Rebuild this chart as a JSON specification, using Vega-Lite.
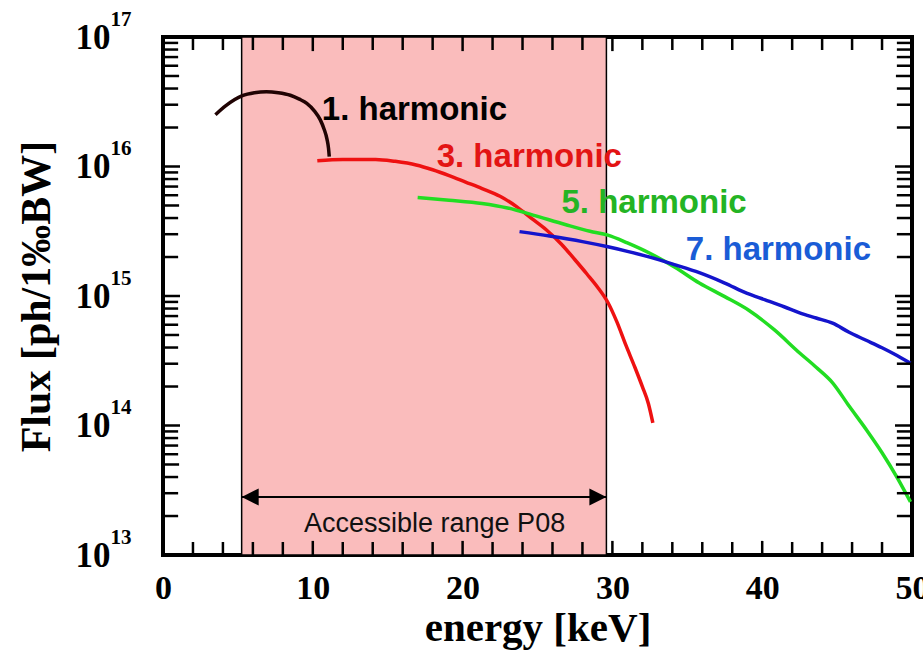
{
  "$schema": "https://vega.github.io/schema/vega-lite/v6.json",
  "width": 749,
  "height": 518,
  "autosize": {"type": "none"},
  "padding": {"left": 163, "top": 37, "right": 11, "bottom": 97},
  "background": "white",
  "config": {"view": {"stroke": "#000000", "strokeWidth": 4}, "axis": {"grid": false}},
  "datasets": {
    "curves": [
      {"harmonic": "1. harmonic", "E": 3.5, "F": 2.512e16},
      {"harmonic": "1. harmonic", "E": 4.2, "F": 2.951e16},
      {"harmonic": "1. harmonic", "E": 5.3, "F": 3.524e16},
      {"harmonic": "1. harmonic", "E": 6.1, "F": 3.715e16},
      {"harmonic": "1. harmonic", "E": 6.9, "F": 3.784e16},
      {"harmonic": "1. harmonic", "E": 7.7, "F": 3.715e16},
      {"harmonic": "1. harmonic", "E": 8.5, "F": 3.548e16},
      {"harmonic": "1. harmonic", "E": 9.1, "F": 3.311e16},
      {"harmonic": "1. harmonic", "E": 9.6, "F": 3.076e16},
      {"harmonic": "1. harmonic", "E": 10.1, "F": 2.692e16},
      {"harmonic": "1. harmonic", "E": 10.5, "F": 2.291e16},
      {"harmonic": "1. harmonic", "E": 10.75, "F": 1.95e16},
      {"harmonic": "1. harmonic", "E": 10.95, "F": 1.622e16},
      {"harmonic": "1. harmonic", "E": 11.05, "F": 1.38e16},
      {"harmonic": "1. harmonic", "E": 11.1, "F": 1.191e16},
      {"harmonic": "3. harmonic", "E": 10.3, "F": 1.109e16},
      {"harmonic": "3. harmonic", "E": 12.0, "F": 1.135e16},
      {"harmonic": "3. harmonic", "E": 14.2, "F": 1.135e16},
      {"harmonic": "3. harmonic", "E": 15.5, "F": 1.096e16},
      {"harmonic": "3. harmonic", "E": 16.9, "F": 1.028e16},
      {"harmonic": "3. harmonic", "E": 18.0, "F": 9.441e15},
      {"harmonic": "3. harmonic", "E": 19.1, "F": 8.511e15},
      {"harmonic": "3. harmonic", "E": 20.2, "F": 7.586e15},
      {"harmonic": "3. harmonic", "E": 21.3, "F": 6.761e15},
      {"harmonic": "3. harmonic", "E": 22.5, "F": 5.888e15},
      {"harmonic": "3. harmonic", "E": 23.6, "F": 4.898e15},
      {"harmonic": "3. harmonic", "E": 24.6, "F": 3.981e15},
      {"harmonic": "3. harmonic", "E": 25.6, "F": 3.236e15},
      {"harmonic": "3. harmonic", "E": 26.6, "F": 2.512e15},
      {"harmonic": "3. harmonic", "E": 27.5, "F": 1.905e15},
      {"harmonic": "3. harmonic", "E": 28.3, "F": 1.479e15},
      {"harmonic": "3. harmonic", "E": 29.0, "F": 1.175e15},
      {"harmonic": "3. harmonic", "E": 29.7, "F": 8.913e14},
      {"harmonic": "3. harmonic", "E": 30.3, "F": 6.31e14},
      {"harmonic": "3. harmonic", "E": 30.9, "F": 4.169e14},
      {"harmonic": "3. harmonic", "E": 31.5, "F": 2.818e14},
      {"harmonic": "3. harmonic", "E": 32.0, "F": 1.995e14},
      {"harmonic": "3. harmonic", "E": 32.4, "F": 1.479e14},
      {"harmonic": "3. harmonic", "E": 32.7, "F": 1.047e14},
      {"harmonic": "5. harmonic", "E": 17.0, "F": 5.754e15},
      {"harmonic": "5. harmonic", "E": 19.1, "F": 5.495e15},
      {"harmonic": "5. harmonic", "E": 21.3, "F": 5.188e15},
      {"harmonic": "5. harmonic", "E": 23.0, "F": 4.786e15},
      {"harmonic": "5. harmonic", "E": 24.7, "F": 4.217e15},
      {"harmonic": "5. harmonic", "E": 26.9, "F": 3.548e15},
      {"harmonic": "5. harmonic", "E": 28.5, "F": 3.162e15},
      {"harmonic": "5. harmonic", "E": 29.7, "F": 2.951e15},
      {"harmonic": "5. harmonic", "E": 31.0, "F": 2.57e15},
      {"harmonic": "5. harmonic", "E": 32.5, "F": 2.138e15},
      {"harmonic": "5. harmonic", "E": 34.2, "F": 1.66e15},
      {"harmonic": "5. harmonic", "E": 35.8, "F": 1.259e15},
      {"harmonic": "5. harmonic", "E": 37.5, "F": 9.886e14},
      {"harmonic": "5. harmonic", "E": 39.1, "F": 7.762e14},
      {"harmonic": "5. harmonic", "E": 40.8, "F": 5.495e14},
      {"harmonic": "5. harmonic", "E": 42.5, "F": 3.631e14},
      {"harmonic": "5. harmonic", "E": 43.6, "F": 2.818e14},
      {"harmonic": "5. harmonic", "E": 44.7, "F": 2.138e14},
      {"harmonic": "5. harmonic", "E": 45.8, "F": 1.413e14},
      {"harmonic": "5. harmonic", "E": 47.0, "F": 9.12e13},
      {"harmonic": "5. harmonic", "E": 48.0, "F": 6.166e13},
      {"harmonic": "5. harmonic", "E": 49.0, "F": 3.981e13},
      {"harmonic": "5. harmonic", "E": 49.9, "F": 2.57e13},
      {"harmonic": "7. harmonic", "E": 23.8, "F": 3.141e15},
      {"harmonic": "7. harmonic", "E": 25.8, "F": 2.904e15},
      {"harmonic": "7. harmonic", "E": 28.0, "F": 2.63e15},
      {"harmonic": "7. harmonic", "E": 29.7, "F": 2.399e15},
      {"harmonic": "7. harmonic", "E": 31.0, "F": 2.213e15},
      {"harmonic": "7. harmonic", "E": 32.5, "F": 1.995e15},
      {"harmonic": "7. harmonic", "E": 34.2, "F": 1.738e15},
      {"harmonic": "7. harmonic", "E": 35.8, "F": 1.514e15},
      {"harmonic": "7. harmonic", "E": 37.5, "F": 1.259e15},
      {"harmonic": "7. harmonic", "E": 39.0, "F": 1.047e15},
      {"harmonic": "7. harmonic", "E": 40.2, "F": 9.333e14},
      {"harmonic": "7. harmonic", "E": 41.5, "F": 8.222e14},
      {"harmonic": "7. harmonic", "E": 42.5, "F": 7.413e14},
      {"harmonic": "7. harmonic", "E": 43.6, "F": 6.761e14},
      {"harmonic": "7. harmonic", "E": 44.7, "F": 6.166e14},
      {"harmonic": "7. harmonic", "E": 45.8, "F": 5.248e14},
      {"harmonic": "7. harmonic", "E": 46.9, "F": 4.571e14},
      {"harmonic": "7. harmonic", "E": 48.0, "F": 3.981e14},
      {"harmonic": "7. harmonic", "E": 49.0, "F": 3.467e14},
      {"harmonic": "7. harmonic", "E": 49.9, "F": 3.02e14}
    ],
    "labels": [
      {"harmonic": "1. harmonic", "E": 10.6, "F": 2.286e16},
      {"harmonic": "3. harmonic", "E": 18.27, "F": 9.91e15},
      {"harmonic": "5. harmonic", "E": 26.6, "F": 4.375e15},
      {"harmonic": "7. harmonic", "E": 34.9, "F": 1.897e15}
    ],
    "range": [{"E": 5.25, "E2": 29.6}],
    "arrow": [{"E": 5.25, "E2": 29.6, "F": 2.805e13}],
    "heads": [
      {"E": 5.82, "F": 2.805e13, "dir": "left"},
      {"E": 29.03, "F": 2.805e13, "dir": "right"}
    ],
    "note": [{"E": 18.13, "F": 1.506e13, "text": "Accessible range P08"}],
    "ticks": [
      {"side": "left", "kind": "ymajor", "E": 0, "F": 1e13}, {"side": "left", "kind": "yminor", "E": 0, "F": 2e13}, {"side": "left", "kind": "yminor", "E": 0, "F": 3e13}, {"side": "left", "kind": "yminor", "E": 0, "F": 4e13}, {"side": "left", "kind": "ymedium", "E": 0, "F": 5e13}, {"side": "left", "kind": "yminor", "E": 0, "F": 6e13}, {"side": "left", "kind": "yminor", "E": 0, "F": 7e13}, {"side": "left", "kind": "yminor", "E": 0, "F": 8e13}, {"side": "left", "kind": "yminor", "E": 0, "F": 9e13},
      {"side": "left", "kind": "ymajor", "E": 0, "F": 1e14}, {"side": "left", "kind": "yminor", "E": 0, "F": 2e14}, {"side": "left", "kind": "yminor", "E": 0, "F": 3e14}, {"side": "left", "kind": "yminor", "E": 0, "F": 4e14}, {"side": "left", "kind": "ymedium", "E": 0, "F": 5e14}, {"side": "left", "kind": "yminor", "E": 0, "F": 6e14}, {"side": "left", "kind": "yminor", "E": 0, "F": 7e14}, {"side": "left", "kind": "yminor", "E": 0, "F": 8e14}, {"side": "left", "kind": "yminor", "E": 0, "F": 9e14},
      {"side": "left", "kind": "ymajor", "E": 0, "F": 1e15}, {"side": "left", "kind": "yminor", "E": 0, "F": 2e15}, {"side": "left", "kind": "yminor", "E": 0, "F": 3e15}, {"side": "left", "kind": "yminor", "E": 0, "F": 4e15}, {"side": "left", "kind": "ymedium", "E": 0, "F": 5e15}, {"side": "left", "kind": "yminor", "E": 0, "F": 6e15}, {"side": "left", "kind": "yminor", "E": 0, "F": 7e15}, {"side": "left", "kind": "yminor", "E": 0, "F": 8e15}, {"side": "left", "kind": "yminor", "E": 0, "F": 9e15},
      {"side": "left", "kind": "ymajor", "E": 0, "F": 1e16}, {"side": "left", "kind": "yminor", "E": 0, "F": 2e16}, {"side": "left", "kind": "yminor", "E": 0, "F": 3e16}, {"side": "left", "kind": "yminor", "E": 0, "F": 4e16}, {"side": "left", "kind": "ymedium", "E": 0, "F": 5e16}, {"side": "left", "kind": "yminor", "E": 0, "F": 6e16}, {"side": "left", "kind": "yminor", "E": 0, "F": 7e16}, {"side": "left", "kind": "yminor", "E": 0, "F": 8e16}, {"side": "left", "kind": "yminor", "E": 0, "F": 9e16},
      {"side": "left", "kind": "ymajor", "E": 0, "F": 1e17},
      {"side": "right", "kind": "ymajor", "E": 50, "F": 1e13}, {"side": "right", "kind": "yminor", "E": 50, "F": 2e13}, {"side": "right", "kind": "yminor", "E": 50, "F": 3e13}, {"side": "right", "kind": "yminor", "E": 50, "F": 4e13}, {"side": "right", "kind": "ymedium", "E": 50, "F": 5e13}, {"side": "right", "kind": "yminor", "E": 50, "F": 6e13}, {"side": "right", "kind": "yminor", "E": 50, "F": 7e13}, {"side": "right", "kind": "yminor", "E": 50, "F": 8e13}, {"side": "right", "kind": "yminor", "E": 50, "F": 9e13},
      {"side": "right", "kind": "ymajor", "E": 50, "F": 1e14}, {"side": "right", "kind": "yminor", "E": 50, "F": 2e14}, {"side": "right", "kind": "yminor", "E": 50, "F": 3e14}, {"side": "right", "kind": "yminor", "E": 50, "F": 4e14}, {"side": "right", "kind": "ymedium", "E": 50, "F": 5e14}, {"side": "right", "kind": "yminor", "E": 50, "F": 6e14}, {"side": "right", "kind": "yminor", "E": 50, "F": 7e14}, {"side": "right", "kind": "yminor", "E": 50, "F": 8e14}, {"side": "right", "kind": "yminor", "E": 50, "F": 9e14},
      {"side": "right", "kind": "ymajor", "E": 50, "F": 1e15}, {"side": "right", "kind": "yminor", "E": 50, "F": 2e15}, {"side": "right", "kind": "yminor", "E": 50, "F": 3e15}, {"side": "right", "kind": "yminor", "E": 50, "F": 4e15}, {"side": "right", "kind": "ymedium", "E": 50, "F": 5e15}, {"side": "right", "kind": "yminor", "E": 50, "F": 6e15}, {"side": "right", "kind": "yminor", "E": 50, "F": 7e15}, {"side": "right", "kind": "yminor", "E": 50, "F": 8e15}, {"side": "right", "kind": "yminor", "E": 50, "F": 9e15},
      {"side": "right", "kind": "ymajor", "E": 50, "F": 1e16}, {"side": "right", "kind": "yminor", "E": 50, "F": 2e16}, {"side": "right", "kind": "yminor", "E": 50, "F": 3e16}, {"side": "right", "kind": "yminor", "E": 50, "F": 4e16}, {"side": "right", "kind": "ymedium", "E": 50, "F": 5e16}, {"side": "right", "kind": "yminor", "E": 50, "F": 6e16}, {"side": "right", "kind": "yminor", "E": 50, "F": 7e16}, {"side": "right", "kind": "yminor", "E": 50, "F": 8e16}, {"side": "right", "kind": "yminor", "E": 50, "F": 9e16},
      {"side": "right", "kind": "ymajor", "E": 50, "F": 1e17},
      {"side": "bottom", "kind": "xmajor", "E": 0, "F": 1e13}, {"side": "bottom", "kind": "xminor", "E": 2, "F": 1e13}, {"side": "bottom", "kind": "xminor", "E": 4, "F": 1e13}, {"side": "bottom", "kind": "xminor", "E": 6, "F": 1e13}, {"side": "bottom", "kind": "xminor", "E": 8, "F": 1e13},
      {"side": "bottom", "kind": "xmajor", "E": 10, "F": 1e13}, {"side": "bottom", "kind": "xminor", "E": 12, "F": 1e13}, {"side": "bottom", "kind": "xminor", "E": 14, "F": 1e13}, {"side": "bottom", "kind": "xminor", "E": 16, "F": 1e13}, {"side": "bottom", "kind": "xminor", "E": 18, "F": 1e13},
      {"side": "bottom", "kind": "xmajor", "E": 20, "F": 1e13}, {"side": "bottom", "kind": "xminor", "E": 22, "F": 1e13}, {"side": "bottom", "kind": "xminor", "E": 24, "F": 1e13}, {"side": "bottom", "kind": "xminor", "E": 26, "F": 1e13}, {"side": "bottom", "kind": "xminor", "E": 28, "F": 1e13},
      {"side": "bottom", "kind": "xmajor", "E": 30, "F": 1e13}, {"side": "bottom", "kind": "xminor", "E": 32, "F": 1e13}, {"side": "bottom", "kind": "xminor", "E": 34, "F": 1e13}, {"side": "bottom", "kind": "xminor", "E": 36, "F": 1e13}, {"side": "bottom", "kind": "xminor", "E": 38, "F": 1e13},
      {"side": "bottom", "kind": "xmajor", "E": 40, "F": 1e13}, {"side": "bottom", "kind": "xminor", "E": 42, "F": 1e13}, {"side": "bottom", "kind": "xminor", "E": 44, "F": 1e13}, {"side": "bottom", "kind": "xminor", "E": 46, "F": 1e13}, {"side": "bottom", "kind": "xminor", "E": 48, "F": 1e13},
      {"side": "bottom", "kind": "xmajor", "E": 50, "F": 1e13},
      {"side": "top", "kind": "xmajor", "E": 0, "F": 1e17}, {"side": "top", "kind": "xminor", "E": 2, "F": 1e17}, {"side": "top", "kind": "xminor", "E": 4, "F": 1e17}, {"side": "top", "kind": "xminor", "E": 6, "F": 1e17}, {"side": "top", "kind": "xminor", "E": 8, "F": 1e17},
      {"side": "top", "kind": "xmajor", "E": 10, "F": 1e17}, {"side": "top", "kind": "xminor", "E": 12, "F": 1e17}, {"side": "top", "kind": "xminor", "E": 14, "F": 1e17}, {"side": "top", "kind": "xminor", "E": 16, "F": 1e17}, {"side": "top", "kind": "xminor", "E": 18, "F": 1e17},
      {"side": "top", "kind": "xmajor", "E": 20, "F": 1e17}, {"side": "top", "kind": "xminor", "E": 22, "F": 1e17}, {"side": "top", "kind": "xminor", "E": 24, "F": 1e17}, {"side": "top", "kind": "xminor", "E": 26, "F": 1e17}, {"side": "top", "kind": "xminor", "E": 28, "F": 1e17},
      {"side": "top", "kind": "xmajor", "E": 30, "F": 1e17}, {"side": "top", "kind": "xminor", "E": 32, "F": 1e17}, {"side": "top", "kind": "xminor", "E": 34, "F": 1e17}, {"side": "top", "kind": "xminor", "E": 36, "F": 1e17}, {"side": "top", "kind": "xminor", "E": 38, "F": 1e17},
      {"side": "top", "kind": "xmajor", "E": 40, "F": 1e17}, {"side": "top", "kind": "xminor", "E": 42, "F": 1e17}, {"side": "top", "kind": "xminor", "E": 44, "F": 1e17}, {"side": "top", "kind": "xminor", "E": 46, "F": 1e17}, {"side": "top", "kind": "xminor", "E": 48, "F": 1e17},
      {"side": "top", "kind": "xmajor", "E": 50, "F": 1e17}
    ]
  },
  "layer": [
    {
      "data": {"name": "range"},
      "mark": {"type": "rect", "fill": "#fabcbc", "stroke": "#000000", "strokeWidth": 1.5},
      "encoding": {
        "x": {
          "field": "E", "type": "quantitative",
          "scale": {"domain": [0, 50], "nice": false, "zero": false},
          "axis": {
            "orient": "bottom", "values": [0, 10, 20, 30, 40, 50],
            "ticks": false, "domain": false,
            "labelFont": "Liberation Serif", "labelFontWeight": "bold", "labelFontSize": 34,
            "labelColor": "#000000", "labelPadding": 16, "labelFlush": false, "labelOverlap": false,
            "title": "energy [keV]", "titleFont": "Liberation Serif", "titleFontWeight": "bold",
            "titleFontSize": 41, "titleColor": "#000000", "titlePadding": 3
          }
        },
        "x2": {"field": "E2"}
      }
    },
    {
      "data": {"name": "curves"},
      "mark": {"type": "line", "strokeWidth": 3.5, "interpolate": "monotone"},
      "encoding": {
        "x": {"field": "E", "type": "quantitative", "axis": null},
        "y": {
          "field": "F", "type": "quantitative",
          "scale": {"type": "log", "domain": [1e13, 1e17], "nice": false},
          "axis": {
            "orient": "left", "values": [1e13, 1e14, 1e15, 1e16, 1e17],
            "labelExpr": "'10'", "ticks": false, "domain": false,
            "labelFont": "Liberation Serif", "labelFontWeight": "bold", "labelFontSize": 35,
            "labelColor": "#000000", "labelPadding": 53, "labelFlush": false, "labelOverlap": false,
            "labelBaseline": "middle",
            "title": "Flux [ph/1‰BW]", "titleFont": "Liberation Serif", "titleFontWeight": "bold",
            "titleFontSize": 42, "titleColor": "#000000", "titlePadding": 17
          }
        },
        "color": {
          "field": "harmonic", "type": "nominal", "legend": null,
          "scale": {"domain": ["1. harmonic", "3. harmonic", "5. harmonic", "7. harmonic"], "range": ["#200303", "#ee1111", "#22dd22", "#1414cc"]}
        }
      }
    },
    {
      "data": {"name": "labels"},
      "mark": {"type": "text", "align": "left", "baseline": "alphabetic", "font": "Liberation Sans", "fontWeight": "bold", "fontSize": 33},
      "encoding": {
        "x": {"field": "E", "type": "quantitative", "axis": null},
        "y": {"field": "F", "type": "quantitative", "axis": null},
        "text": {"field": "harmonic"},
        "color": {
          "field": "harmonic", "type": "nominal", "legend": null,
          "scale": {"domain": ["1. harmonic", "3. harmonic", "5. harmonic", "7. harmonic"], "range": ["#000000", "#e31414", "#24b424", "#1a5cd6"]}
        }
      }
    },
    {
      "data": {"name": "arrow"},
      "mark": {"type": "rule", "color": "#000000", "strokeWidth": 2},
      "encoding": {
        "x": {"field": "E", "type": "quantitative", "axis": null},
        "x2": {"field": "E2"},
        "y": {"field": "F", "type": "quantitative", "axis": null}
      }
    },
    {
      "data": {"name": "heads"},
      "mark": {"type": "point", "filled": true, "opacity": 1, "size": 289, "color": "#000000"},
      "encoding": {
        "x": {"field": "E", "type": "quantitative", "axis": null},
        "y": {
          "field": "F", "type": "quantitative",
          "axis": {
            "orient": "left", "values": [1e13, 1e14, 1e15, 1e16, 1e17],
            "labelExpr": "'' + round(log(datum.value)/LN10)", "ticks": false, "domain": false,
            "labelFont": "Liberation Serif", "labelFontWeight": "bold", "labelFontSize": 21,
            "labelColor": "#000000", "labelPadding": 53, "labelAlign": "left", "labelBaseline": "alphabetic",
            "labelOffset": -12, "labelFlush": false, "labelOverlap": false, "title": null
          }
        },
        "shape": {
          "field": "dir", "type": "nominal", "legend": null,
          "scale": {"domain": ["left", "right"], "range": ["M-1,0L1,-1L1,1Z", "M1,0L-1,-1L-1,1Z"]}
        }
      }
    },
    {
      "data": {"name": "note"},
      "mark": {"type": "text", "align": "center", "baseline": "alphabetic", "font": "Liberation Sans", "fontSize": 27, "color": "#111111"},
      "encoding": {
        "x": {"field": "E", "type": "quantitative", "axis": null},
        "y": {"field": "F", "type": "quantitative", "axis": null},
        "text": {"field": "text"}
      }
    },
    {
      "data": {"name": "ticks"},
      "mark": {"type": "point", "filled": false, "opacity": 1, "stroke": "#000000", "strokeWidth": 2.5, "strokeCap": "butt"},
      "encoding": {
        "x": {"field": "E", "type": "quantitative", "axis": null},
        "y": {"field": "F", "type": "quantitative", "axis": null},
        "shape": {
          "field": "side", "type": "nominal", "legend": null,
          "scale": {"domain": ["left", "right", "bottom", "top"], "range": ["M0,0L2,0", "M0,0L-2,0", "M0,0L0,-2", "M0,0L0,2"]}
        },
        "size": {
          "field": "kind", "type": "ordinal", "legend": null,
          "scale": {"domain": ["ymajor", "ymedium", "yminor", "xmajor", "xminor"], "range": [289, 169, 64, 225, 56]}
        }
      }
    }
  ],
  "resolve": {
    "scale": {"color": "independent", "shape": "independent"},
    "axis": {"x": "independent", "y": "independent"}
  }
}
